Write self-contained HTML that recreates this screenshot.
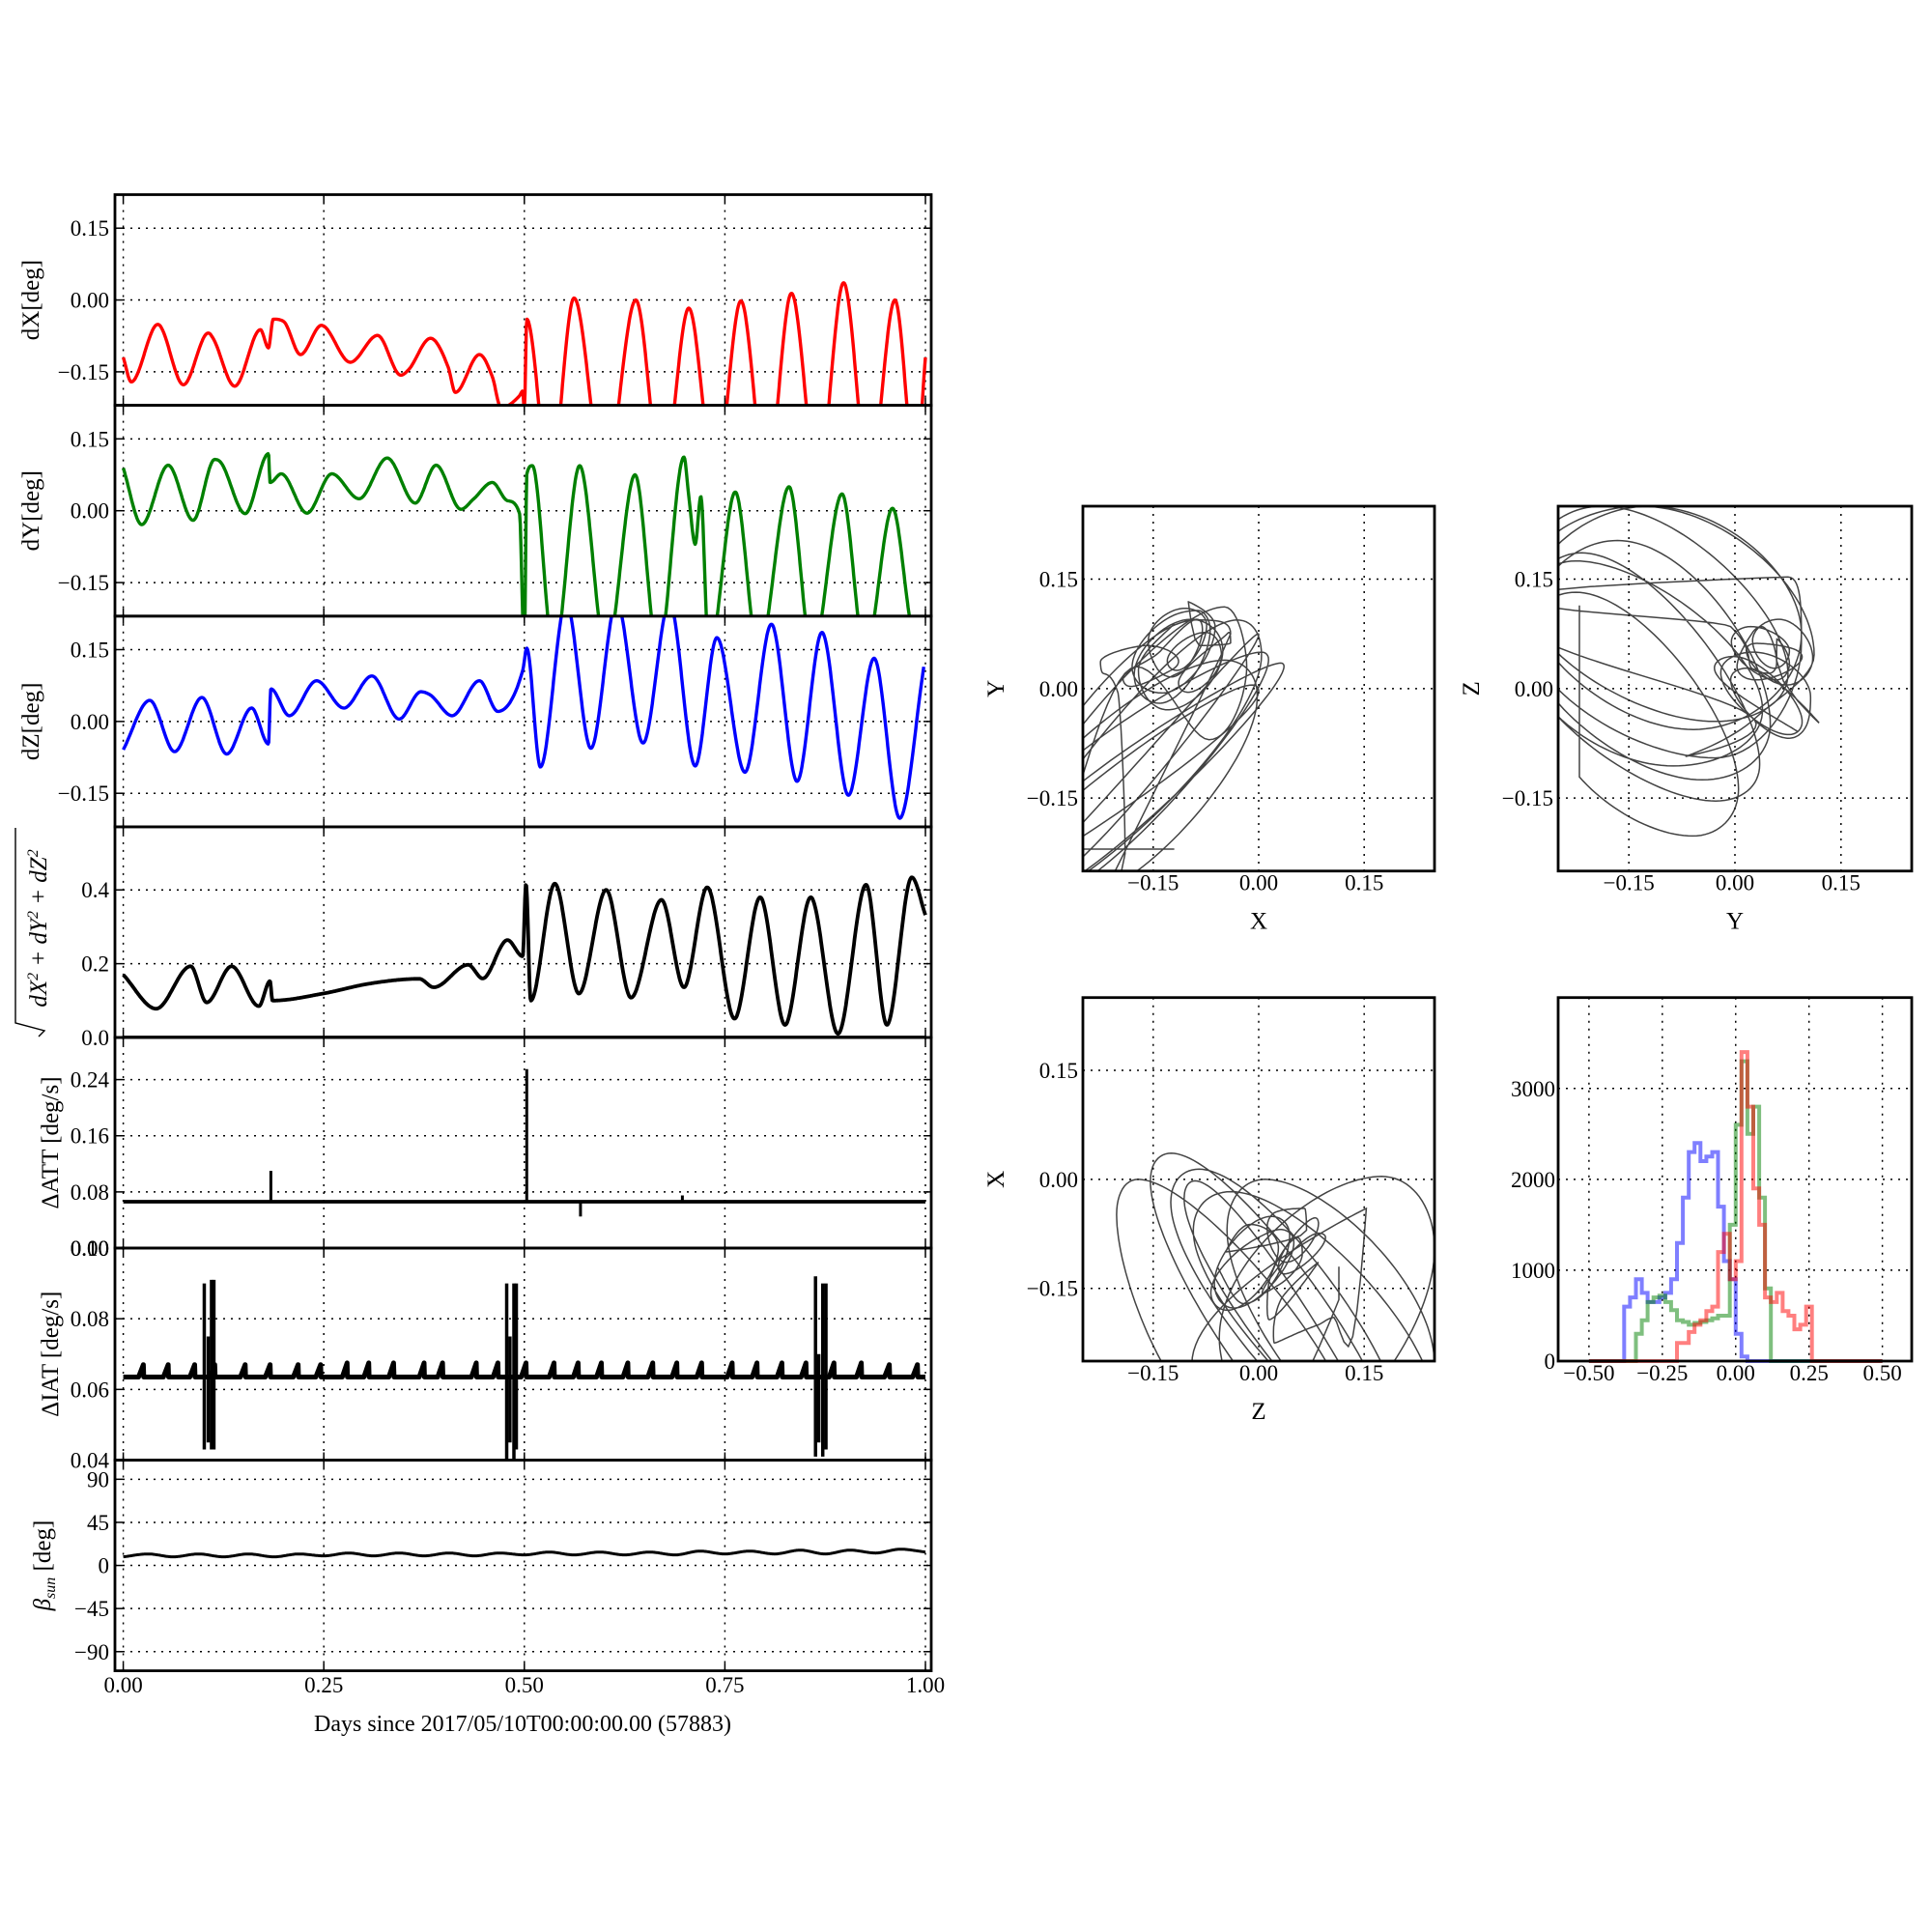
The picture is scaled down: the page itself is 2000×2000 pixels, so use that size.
<!DOCTYPE html>
<html><head><meta charset="utf-8">
<style>
html,body{margin:0;padding:0;background:#fff;}
svg{display:block;font-family:"Liberation Serif","DejaVu Serif",serif;}
</style></head>
<body>
<svg id="fig" xmlns="http://www.w3.org/2000/svg" width="2000" height="2000" viewBox="0 0 2000 2000">
<rect width="2000" height="2000" fill="#fff"/>
</svg>
<script>
// ---- time series data (days, deg) ----
const DX_T=[0,0.01,0.043,0.075,0.106,0.112,0.139,0.171,0.181,0.187,0.2,0.221,0.247,0.283,0.317,0.346,0.356,0.383,0.405,0.414,0.444,0.46,0.471,0.494,0.498,0.500,0.503,0.532,0.562,0.600,0.639,0.672,0.705,0.738,0.770,0.802,0.833,0.866,0.898,0.930,0.962,0.988,1.0];
const DX_V=[-0.12,-0.171,-0.051,-0.177,-0.069,-0.08,-0.18,-0.062,-0.10,-0.04,-0.045,-0.114,-0.053,-0.13,-0.074,-0.157,-0.145,-0.08,-0.14,-0.193,-0.114,-0.16,-0.225,-0.20,-0.19,-0.23,-0.04,-0.38,0.004,-0.38,0.0,-0.38,-0.017,-0.38,-0.002,-0.38,0.014,-0.38,0.036,-0.38,0.0,-0.36,-0.12];
const DY_T=[0,0.023,0.056,0.087,0.114,0.122,0.152,0.181,0.183,0.197,0.229,0.26,0.294,0.329,0.364,0.39,0.421,0.437,0.46,0.479,0.494,0.5,0.503,0.51,0.537,0.569,0.602,0.638,0.667,0.699,0.705,0.713,0.72,0.73,0.763,0.792,0.83,0.859,0.896,0.925,0.959,0.98];
const DY_V=[0.089,-0.029,0.095,-0.02,0.107,0.10,-0.006,0.119,0.059,0.077,-0.005,0.077,0.025,0.110,0.016,0.095,0.003,0.025,0.059,0.021,-0.006,-0.30,0.075,0.094,-0.30,0.094,-0.30,0.075,-0.30,0.112,0.03,-0.07,0.03,-0.30,0.039,-0.30,0.05,-0.30,0.035,-0.30,0.005,-0.22];
const DZ_T=[0,0.033,0.064,0.098,0.129,0.16,0.181,0.184,0.207,0.241,0.275,0.31,0.344,0.371,0.383,0.41,0.444,0.467,0.498,0.503,0.52,0.552,0.583,0.615,0.648,0.681,0.713,0.740,0.775,0.808,0.840,0.871,0.904,0.936,0.968,0.998];
const DZ_V=[-0.059,0.044,-0.063,0.050,-0.068,0.028,-0.047,0.068,0.012,0.085,0.028,0.095,0.005,0.062,0.055,0.012,0.085,0.021,0.107,0.153,-0.095,0.25,-0.056,0.25,-0.045,0.25,-0.093,0.175,-0.106,0.203,-0.125,0.186,-0.154,0.132,-0.202,0.114];
const R_T=[0,0.041,0.084,0.104,0.135,0.169,0.183,0.186,0.249,0.307,0.369,0.387,0.430,0.448,0.479,0.498,0.502,0.508,0.538,0.568,0.602,0.633,0.671,0.699,0.728,0.762,0.794,0.825,0.857,0.891,0.926,0.952,0.983,1.0];
const R_V=[0.17,0.078,0.193,0.095,0.193,0.085,0.153,0.10,0.119,0.146,0.159,0.136,0.197,0.16,0.264,0.22,0.417,0.10,0.417,0.119,0.40,0.108,0.373,0.136,0.407,0.051,0.38,0.034,0.38,0.01,0.414,0.034,0.434,0.332];
// ΔATT
const ATT_BASE=[0.066,0.066];
const ATT_SPIKE_T=[0.184,0.503,0.570,0.697];
const ATT_SPIKE_V=[0.11,0.255,0.045,0.075];
// ΔIAT
const IAT_BASE=[0.0635];
const IAT_TEETH_T=[0.025,0.056,0.089,0.114,0.152,0.183,0.218,0.246,0.279,0.306,0.337,0.375,0.398,0.440,0.467,0.502,0.537,0.567,0.596,0.629,0.660,0.690,0.721,0.759,0.790,0.821,0.851,0.886,0.920,0.955,0.990];
const IAT_TEETH_V=[0.067,0.067,0.067,0.067,0.067,0.067,0.067,0.067,0.0675,0.0675,0.0675,0.0675,0.0675,0.0675,0.0675,0.0675,0.0675,0.0675,0.0675,0.0675,0.0675,0.0675,0.0675,0.0675,0.0675,0.0675,0.0675,0.0675,0.0675,0.067,0.067];
const IAT_BURST_T=[0.101,0.106,0.110,0.113,0.478,0.482,0.487,0.490,0.863,0.867,0.872,0.876];
const IAT_BURST_HI=[0.090,0.075,0.091,0.091,0.090,0.075,0.090,0.090,0.092,0.070,0.090,0.090];
const IAT_BURST_LO=[0.043,0.045,0.043,0.043,0.040,0.045,0.040,0.043,0.041,0.045,0.041,0.043];
// β_sun
const BETA_T=[0,0.031,0.062,0.094,0.125,0.156,0.188,0.219,0.25,0.281,0.312,0.344,0.375,0.406,0.438,0.469,0.5,0.531,0.562,0.594,0.625,0.656,0.688,0.719,0.75,0.781,0.812,0.844,0.875,0.906,0.938,0.969,1.0];
const BETA_V=[9,12,9,12,9,12,9,12,10,13,10,13,10,13,10,13,11,14,11,14,11,14,11,15,12,15,12,16,12,16,13,17,14];
// histogram (bin left edges, width 0.02)
const H_BLUE_X0=-0.38;
const H_BLUE=[600,700,900,750,650,650,700,750,900,1300,1800,2300,2400,2200,2250,2300,1700,1100,900,300,50];
const H_GREEN_X0=-0.34;
const H_GREEN=[300,450,650,700,720,650,560,450,430,400,420,430,450,470,500,500,1500,2600,3300,2500,2800,1800,800];
const H_RED_X0=-0.22;
const H_RED=[0,200,200,320,400,450,550,600,1200,1400,900,1100,3400,2800,1900,1500,700,650,750,550,500,350,400,600];

const NS='http://www.w3.org/2000/svg';
const svg=document.getElementById('fig');
function el(tag,attrs,parent){const e=document.createElementNS(NS,tag);for(const k in attrs)e.setAttribute(k,attrs[k]);(parent||svg).appendChild(e);return e;}
function txt(s,x,y,size,anchor,parent,extra){const t=el('text',Object.assign({x:x,y:y,'font-size':size,'text-anchor':anchor||'middle',fill:'#000'},extra||{}),parent);t.textContent=s;return t;}
function fmt(v,d){const s=Math.abs(v).toFixed(d);return (v<0?'\u2212':'')+s;}
// monotone cubic interpolation (Fritsch-Carlson) for smooth rendering between read knots
function mono(T,V){
  const n=T.length,d=[],m=[];
  for(let i=0;i<n-1;i++)d.push((V[i+1]-V[i])/(T[i+1]-T[i]));
  m[0]=d[0];m[n-1]=d[n-2];
  for(let i=1;i<n-1;i++){m[i]=(d[i-1]*d[i]<=0)?0:(d[i-1]+d[i])/2;}
  for(let i=0;i<n-1;i++){if(d[i]===0){m[i]=0;m[i+1]=0;continue;}const a=m[i]/d[i],b=m[i+1]/d[i],s=a*a+b*b;if(s>9){const tt=3/Math.sqrt(s);m[i]=tt*a*d[i];m[i+1]=tt*b*d[i];}}
  return function(t){
    if(t<=T[0])return V[0];if(t>=T[n-1])return V[n-1];
    let i=1;while(T[i]<t)i++;i--;
    const h=T[i+1]-T[i],s=(t-T[i])/h,s2=s*s,s3=s2*s;
    return (2*s3-3*s2+1)*V[i]+(s3-2*s2+s)*h*m[i]+(-2*s3+3*s2)*V[i+1]+(s3-s2)*h*m[i+1];
  };
}

// ---- left stacked panels ----
const LX0=119, LX1=964;
const tx=t=>127.6+t*830.4;
const bounds=[201.5,419.6,637.8,855.9,1074,1292,1511.5,1729.6];
const panels=[
 {name:'dx',ymin:-0.22,ymax:0.22,ticks:[-0.15,0,0.15],dec:2,label:'dX[deg]'},
 {name:'dy',ymin:-0.22,ymax:0.22,ticks:[-0.15,0,0.15],dec:2,label:'dY[deg]'},
 {name:'dz',ymin:-0.22,ymax:0.22,ticks:[-0.15,0,0.15],dec:2,label:'dZ[deg]'},
 {name:'r',ymin:0,ymax:0.571,ticks:[0,0.2,0.4],dec:1,label:'sqrt'},
 {name:'att',ymin:0,ymax:0.30,ticks:[0,0.08,0.16,0.24],dec:2,label:'\u0394ATT [deg/s]'},
 {name:'iat',ymin:0.04,ymax:0.10,ticks:[0.04,0.06,0.08,0.10],dec:2,label:'\u0394IAT [deg/s]'},
 {name:'beta',ymin:-110,ymax:110,ticks:[-90,-45,0,45,90],dec:0,label:'beta'}
];
const defs=el('defs',{});
panels.forEach((p,i)=>{
  const top=bounds[i],bot=bounds[i+1];
  p.top=top;p.bot=bot;
  p.y=v=>bot-(v-p.ymin)/(p.ymax-p.ymin)*(bot-top);
  const g=el('g',{});
  
  
  p.g=g;
  const cp=el('clipPath',{id:'clip-'+p.name},defs);
  el('rect',{x:LX0,y:top,width:LX1-LX0,height:bot-top},cp);
  [0,0.25,0.5,0.75,1].forEach(t=>{el('line',{x1:tx(t),x2:tx(t),y1:top,y2:bot,stroke:'#000','stroke-width':1.5,'stroke-dasharray':'2,6'},g);
    el('line',{x1:tx(t),x2:tx(t),y1:bot,y2:bot-8,stroke:'#000','stroke-width':1.5},g);el('line',{x1:tx(t),x2:tx(t),y1:top,y2:top+8,stroke:'#000','stroke-width':1.5},g);});
  p.ticks.forEach(v=>{const yy=p.y(v);
    el('line',{x1:LX0,x2:LX1,y1:yy,y2:yy,stroke:'#000','stroke-width':1.5,'stroke-dasharray':'2,6'},g);
    el('line',{x1:LX0,x2:LX0+8,y1:yy,y2:yy,stroke:'#000','stroke-width':1.5},g);
    el('line',{x1:LX1,x2:LX1-8,y1:yy,y2:yy,stroke:'#000','stroke-width':1.5},g);
    const lab=txt(fmt(v,p.dec),113,yy+8,23,'end',g);
    
    
  });
  const ly=(top+bot)/2;
  if(p.label==='sqrt'){
    const lg=el('g',{transform:`translate(44,${ly}) rotate(-90)`},g);
    
    
    el('path',{d:'M -108 -4 L -102 2 L -94 -28 L 108 -28',fill:'none',stroke:'#000','stroke-width':1.4},lg);
    const t=el('text',{x:4,y:4,'font-size':25,'text-anchor':'middle','font-style':'italic'},lg);
    t.innerHTML='dX<tspan dy="-9" font-size="16">2</tspan><tspan dy="9"> + dY</tspan><tspan dy="-9" font-size="16">2</tspan><tspan dy="9"> + dZ</tspan><tspan dy="-9" font-size="16">2</tspan>';
  } else if(p.label==='beta'){
    const t=el('text',{x:0,y:0,'font-size':25,'text-anchor':'middle',transform:`translate(52,${ly}) rotate(-90)`},g);
    
    
    t.innerHTML='<tspan font-style="italic">\u03B2</tspan><tspan font-style="italic" font-size="16" dy="5">sun</tspan><tspan dy="-5"> [deg]</tspan>';
  } else {
    const t=txt(p.label,0,0,25,'middle',g,{transform:`translate(${p.name.length<3?40:60},${ly}) rotate(-90)`});
    
    
  }
});
{const t=txt('0.00',113,bounds[5]+8,23,'end');}

function series(p,T,V,color,w,name,smooth){
  let d='';
  if(smooth){const f=mono(T,V);const N=1200;for(let k=0;k<=N;k++){const t=T[0]+(T[T.length-1]-T[0])*k/N;d+=(k?'L':'M')+tx(t).toFixed(1)+' '+p.y(f(t)).toFixed(1);}}
  else T.forEach((t,i)=>{d+=(i?'L':'M')+tx(t).toFixed(1)+' '+p.y(V[i]).toFixed(1);});
  const path=el('path',{d:d,fill:'none',stroke:color,'stroke-width':w,'stroke-linejoin':'round','clip-path':`url(#clip-${p.name})`},p.g);
  
  
  return path;
}
series(panels[0],DX_T,DX_V,'#ff0000',3.4,'dx-line',true);
series(panels[1],DY_T,DY_V,'#008000',3.4,'dy-line',true);
series(panels[2],DZ_T,DZ_V,'#0000ff',3.4,'dz-line',true);
series(panels[3],R_T,R_V,'#000',3.8,'magnitude-line',true);
series(panels[3],[0,1],[0,0],'#000',3.8,'magnitude-zero-line');
{const p=panels[4];
 series(p,[0,1],ATT_BASE,'#000',3.8,'att-baseline');
 ATT_SPIKE_T.forEach((t,i)=>{const l=el('line',{x1:tx(t),x2:tx(t),y1:p.y(0.066),y2:p.y(ATT_SPIKE_V[i]),stroke:'#000','stroke-width':3},p.g);
   });}
{const p=panels[5];
 const T=[0],V=[IAT_BASE[0]];
 IAT_TEETH_T.forEach((t,i)=>{T.push(t-0.006,t,t+0.0005);V.push(IAT_BASE[0],IAT_TEETH_V[i],IAT_BASE[0]);});
 T.push(1);V.push(IAT_BASE[0]);
 series(p,T,V,'#000',5,'iat-line');
 IAT_BURST_T.forEach((t,i)=>{const l=el('line',{x1:tx(t),x2:tx(t),y1:p.y(IAT_BURST_LO[i]),y2:p.y(IAT_BURST_HI[i]),stroke:'#000','stroke-width':3.5,'clip-path':'url(#clip-iat)'},p.g);
   });}
series(panels[6],BETA_T,BETA_V,'#000',3,'beta-line',true);
panels.forEach(p=>{const r=el('rect',{x:LX0,y:p.top,width:LX1-LX0,height:p.bot-p.top,fill:'none',stroke:'#000','stroke-width':2.8});
  });
[0,0.25,0.5,0.75,1].forEach(t=>{const l=txt(t.toFixed(2),tx(t),1752,23,'middle');});
{const l=txt('Days since 2017/05/10T00:00:00.00 (57883)',541,1792,24,'middle');}

// ---- scatter plots ----
const FX=mono(DX_T,DX_V),FY=mono(DY_T,DY_V),FZ=mono(DZ_T,DZ_V);
const boxes=[
 {name:'xy',x0:1121,x1:1485,y0:524,y1:901.7,fx:FX,fy:FY,xl:'X',yl:'Y'},
 {name:'yz',x0:1613,x1:1979,y0:524,y1:901.7,fx:FY,fy:FZ,xl:'Y',yl:'Z'},
 {name:'zx',x0:1121,x1:1485,y0:1032.7,y1:1409,fx:FZ,fy:FX,xl:'Z',yl:'X'}
];
boxes.forEach(b=>{
  const g=el('g',{});
  
  
  const sx=v=>b.x0+(v+0.25)/0.5*(b.x1-b.x0), sy=v=>b.y1-(v+0.25)/0.5*(b.y1-b.y0);
  const cp=el('clipPath',{id:'clip-'+b.name},defs);
  el('rect',{x:b.x0,y:b.y0,width:b.x1-b.x0,height:b.y1-b.y0},cp);
  [-0.15,0,0.15].forEach(v=>{
    el('line',{x1:sx(v),x2:sx(v),y1:b.y0,y2:b.y1,stroke:'#000','stroke-width':1.5,'stroke-dasharray':'2,6'},g);
    el('line',{x1:b.x0,x2:b.x1,y1:sy(v),y2:sy(v),stroke:'#000','stroke-width':1.5,'stroke-dasharray':'2,6'},g);
    const a=txt(fmt(v,2),sx(v),b.y1+20,23,'middle',g);
    const c=txt(fmt(v,2),b.x0-5,sy(v)+8,23,'end',g);
  });
  let d='';
  for(let k=0;k<=2000;k++){const t=k/2000;d+=(k?'L':'M')+sx(b.fx(t)).toFixed(1)+' '+sy(b.fy(t)).toFixed(1);}
  const path=el('path',{d:d,fill:'none',stroke:'#222','stroke-width':1.5,'stroke-opacity':0.85,'clip-path':`url(#clip-${b.name})`},g);
  
  
  const fr=el('rect',{x:b.x0,y:b.y0,width:b.x1-b.x0,height:b.y1-b.y0,fill:'none',stroke:'#000','stroke-width':2.8},g);
  
  const xl=txt(b.xl,(b.x0+b.x1)/2,b.y1+60,25,'middle',g);
  const yl=txt(b.yl,0,0,25,'middle',g,{transform:`translate(${b.x0-82},${(b.y0+b.y1)/2}) rotate(-90)`});
});

// ---- histogram ----
{
 const x0=1613,x1=1979,y0=1032.7,y1=1409;
 const hx=v=>x0+(v+0.605)/1.205*(x1-x0), hy=c=>y1-c/4000*(y1-y0);
 const g=el('g',{});
 
 
 [-0.5,-0.25,0,0.25,0.5].forEach(v=>{el('line',{x1:hx(v),x2:hx(v),y1:y0,y2:y1,stroke:'#000','stroke-width':1.5,'stroke-dasharray':'2,6'},g);
   const a=txt(fmt(v,2),hx(v),y1+20,23,'middle',g);});
 [0,1000,2000,3000].forEach(c=>{el('line',{x1:x0,x2:x1,y1:hy(c),y2:hy(c),stroke:'#000','stroke-width':1.5,'stroke-dasharray':'2,6'},g);
   const a=txt(String(c),x0-3,hy(c)+8,23,'end',g);});
 function hist(x0v,C,color,name){
   let d='M'+hx(-0.5)+' '+hy(0)+'L'+hx(x0v)+' '+hy(0);
   C.forEach((c,i)=>{const a=x0v+i*0.02;d+='L'+hx(a).toFixed(1)+' '+hy(c).toFixed(1)+'L'+hx(a+0.02).toFixed(1)+' '+hy(c).toFixed(1);});
   d+='L'+hx(x0v+C.length*0.02).toFixed(1)+' '+hy(0)+'L'+hx(0.5)+' '+hy(0);
   const p=el('path',{d:d,fill:'none',stroke:color,'stroke-width':4,'stroke-opacity':0.5},g);
   
   
 }
 hist(H_BLUE_X0,H_BLUE,'#0000ff','hist-blue');
 hist(H_GREEN_X0,H_GREEN,'#008000','hist-green');
 hist(H_RED_X0,H_RED,'#ff0000','hist-red');
 const fr=el('rect',{x:x0,y:y0,width:x1-x0,height:y1-y0,fill:'none',stroke:'#000','stroke-width':2.8},g);
 
}
</script>
</body></html>
